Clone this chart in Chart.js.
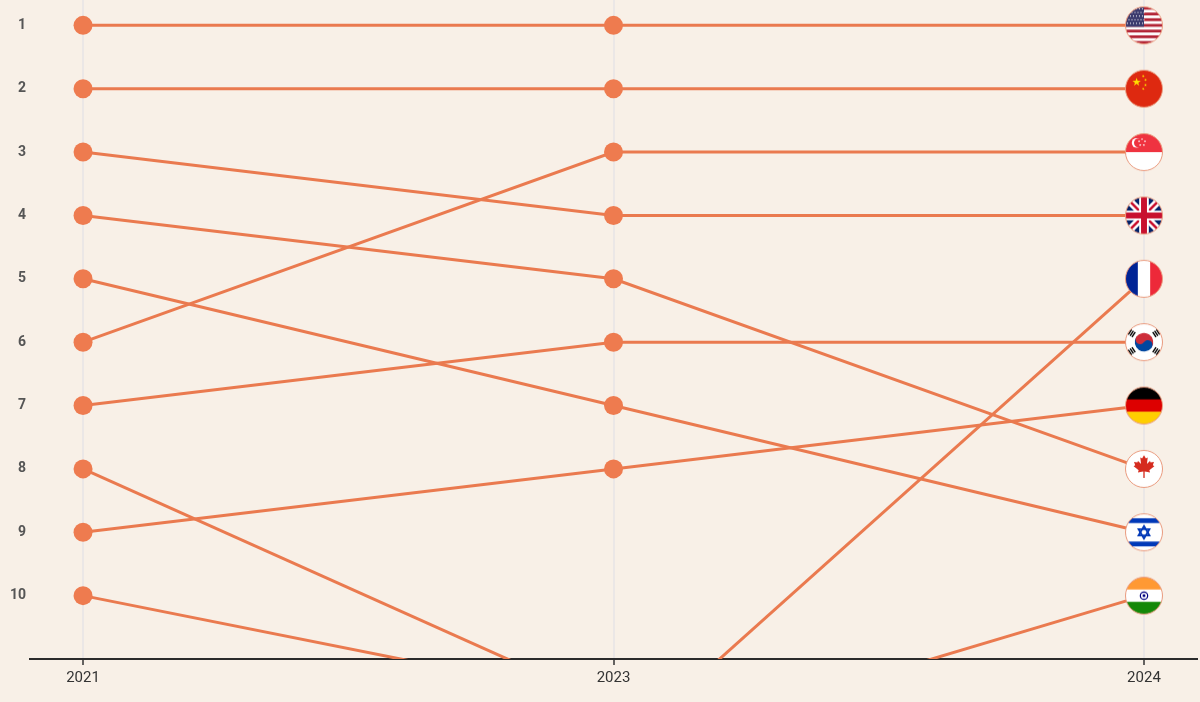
<!DOCTYPE html>
<html>
<head>
<meta charset="utf-8">
<script src="https://cdn.jsdelivr.net/npm/chart.js@4/dist/chart.umd.min.js"></script>
<style>
  html, body { margin: 0; padding: 0; background: #f8f0e7; }
  #wrap { width: 1200px; height: 702px; position: relative; }
</style>
</head>
<body>
<div id="wrap"><canvas id="myChart"></canvas></div>
<script>
// data \\
const years = ['2021', '2023', '2024'];
const rankTicks = [1, 2, 3, 4, 5, 6, 7, 8, 9, 10];

const usa = [1, 1, 1];
const china = [2, 2, 2];
const uk = [3, 4, 4];
const canada = [4, 5, 8];
const israel = [5, 7, 9];
const singapore = [6, 3, 3];
const korea = [7, 6, 6];
const droppedA = [8, 11.75, null];
const germany = [9, 8, 7];
const droppedB = [10, 11.67, null];
const france = [null, 12.5, 5];
const india = [null, 12.5, 10];

const lineColor = '#ea7a4f';
const dotColor = '#ee7b4f';

// flags (drawn, no images) \\
function flagCanvas(draw) {
    const c = document.createElement('canvas');
    c.width = 40; c.height = 40;
    const g = c.getContext('2d');
    g.save();
    g.beginPath(); g.arc(20, 20, 18.5, 0, Math.PI * 2); g.clip();
    g.translate(1.5, 1.5);
    draw(g, 37);
    g.restore();
    g.beginPath(); g.arc(20, 20, 18.5, 0, Math.PI * 2);
    g.strokeStyle = '#e99a7e'; g.lineWidth = 1; g.stroke();
    return c;
}

function star(g, cx, cy, r, color, rot) {
    g.beginPath();
    for (let i = 0; i < 10; i++) {
        const rr = i % 2 ? r * 0.4 : r;
        const a = -Math.PI / 2 + (rot || 0) + i * Math.PI / 5;
        g.lineTo(cx + rr * Math.cos(a), cy + rr * Math.sin(a));
    }
    g.closePath(); g.fillStyle = color; g.fill();
}

function stripesH(g, s, cols) {
    cols.forEach((c, i) => { g.fillStyle = c; g.fillRect(0, i * s / cols.length, s, s / cols.length + 0.5); });
}
function stripesV(g, s, cols) {
    cols.forEach((c, i) => { g.fillStyle = c; g.fillRect(i * s / cols.length, 0, s / cols.length + 0.5, s); });
}

const flags = {
    usa: flagCanvas((g, s) => {
        for (let i = 0; i < 13; i++) {
            g.fillStyle = i % 2 ? '#ffffff' : '#b22234';
            g.fillRect(0, i * s / 13, s, s / 13 + 0.5);
        }
        g.fillStyle = '#3c3b6e'; g.fillRect(0, 0, s * 0.5, s * 7 / 13);
        g.fillStyle = '#ffffff';
        for (let r = 0; r < 5; r++) for (let k = 0; k < 6; k++) {
            g.beginPath(); g.arc(2 + k * 3 + (r % 2) * 1.5, 2 + r * 3.6, 0.6, 0, Math.PI * 2); g.fill();
        }
    }),
    china: flagCanvas((g, s) => {
        g.fillStyle = '#de2910'; g.fillRect(0, 0, s, s);
        star(g, s * 0.3, s * 0.32, s * 0.12, '#ffde00');
        star(g, s * 0.48, s * 0.16, s * 0.04, '#ffde00', 0.4);
        star(g, s * 0.54, s * 0.26, s * 0.04, '#ffde00', 0.8);
        star(g, s * 0.54, s * 0.4, s * 0.04, '#ffde00');
        star(g, s * 0.48, s * 0.5, s * 0.04, '#ffde00', 0.4);
    }),
    singapore: flagCanvas((g, s) => {
        stripesH(g, s, ['#ef3340', '#ffffff']);
        g.fillStyle = '#ffffff';
        g.beginPath(); g.arc(s * 0.3, s * 0.25, s * 0.13, 0, Math.PI * 2); g.fill();
        g.fillStyle = '#ef3340';
        g.beginPath(); g.arc(s * 0.35, s * 0.25, s * 0.12, 0, Math.PI * 2); g.fill();
        [[0.42, 0.15], [0.5, 0.21], [0.47, 0.31], [0.37, 0.31], [0.34, 0.21]].forEach(p =>
            star(g, s * p[0] + 1, s * p[1], s * 0.035, '#ffffff'));
    }),
    uk: flagCanvas((g, s) => {
        g.fillStyle = '#012169'; g.fillRect(0, 0, s, s);
        g.lineCap = 'butt';
        g.strokeStyle = '#ffffff'; g.lineWidth = s * 0.2;
        g.beginPath(); g.moveTo(0, 0); g.lineTo(s, s); g.moveTo(s, 0); g.lineTo(0, s); g.stroke();
        g.strokeStyle = '#c8102e'; g.lineWidth = s * 0.07;
        g.beginPath(); g.moveTo(0, 0); g.lineTo(s, s); g.moveTo(s, 0); g.lineTo(0, s); g.stroke();
        g.fillStyle = '#ffffff';
        g.fillRect(0, s * 0.37, s, s * 0.26); g.fillRect(s * 0.37, 0, s * 0.26, s);
        g.fillStyle = '#c8102e';
        g.fillRect(0, s * 0.42, s, s * 0.16); g.fillRect(s * 0.42, 0, s * 0.16, s);
    }),
    france: flagCanvas((g, s) => stripesV(g, s, ['#002395', '#ffffff', '#ed2939'])),
    korea: flagCanvas((g, s) => {
        g.fillStyle = '#ffffff'; g.fillRect(0, 0, s, s);
        const cx = s / 2, cy = s / 2, r = s * 0.25, a = Math.atan2(2, 3);
        g.save(); g.translate(cx, cy); g.rotate(a);
        g.fillStyle = '#0047a0';
        g.beginPath(); g.arc(0, 0, r, 0, Math.PI); g.fill();
        g.fillStyle = '#cd2e3a';
        g.beginPath(); g.arc(0, 0, r, Math.PI, Math.PI * 2); g.fill();
        g.beginPath(); g.arc(-r / 2, 0, r / 2, 0, Math.PI * 2); g.fill();
        g.fillStyle = '#0047a0';
        g.beginPath(); g.arc(r / 2, 0, r / 2, 0, Math.PI * 2); g.fill();
        g.restore();
        g.fillStyle = '#000000';
        [[-1, -1], [1, -1], [-1, 1], [1, 1]].forEach(d => {
            g.save();
            g.translate(cx + d[0] * s * 0.33, cy + d[1] * s * 0.24);
            g.rotate(Math.atan2(d[1] * 2, d[0] * 3) + Math.PI / 2);
            for (let k = -1; k <= 1; k++) g.fillRect(-s * 0.08, k * 2.2 - 0.7, s * 0.16, 1.4);
            g.restore();
        });
    }),
    germany: flagCanvas((g, s) => stripesH(g, s, ['#000000', '#dd0000', '#ffce00'])),
    canada: flagCanvas((g, s) => {
        g.fillStyle = '#ffffff'; g.fillRect(0, 0, s, s);
        const half = [[0, -0.95], [0.14, -0.7], [0.28, -0.78], [0.22, -0.3], [0.45, -0.52], [0.5, -0.4],
            [0.75, -0.45], [0.66, -0.2], [0.78, -0.12], [0.4, 0.18], [0.46, 0.34], [0.05, 0.28],
            [0.05, 0.75]];
        const pts = half.concat(half.slice(1).reverse().map(p => [-p[0], p[1]]));
        g.fillStyle = '#d52b1e';
        g.beginPath();
        pts.forEach(p => g.lineTo(s / 2 + p[0] * s * 0.36, s * 0.47 + p[1] * s * 0.36));
        g.closePath(); g.fill();
    }),
    israel: flagCanvas((g, s) => {
        g.fillStyle = '#ffffff'; g.fillRect(0, 0, s, s);
        g.fillStyle = '#0038b8';
        g.fillRect(0, s * 0.12, s, s * 0.13); g.fillRect(0, s * 0.75, s, s * 0.13);
        g.strokeStyle = '#0038b8'; g.lineWidth = 1.8;
        [0, Math.PI].forEach(off => {
            g.beginPath();
            for (let i = 0; i < 3; i++) {
                const ang = -Math.PI / 2 + off + i * 2 * Math.PI / 3;
                g.lineTo(s / 2 + s * 0.17 * Math.cos(ang), s / 2 + s * 0.17 * Math.sin(ang));
            }
            g.closePath(); g.stroke();
        });
    }),
    india: flagCanvas((g, s) => {
        stripesH(g, s, ['#ff9933', '#ffffff', '#138808']);
        g.strokeStyle = '#000080'; g.lineWidth = 1.2;
        g.beginPath(); g.arc(s / 2, s / 2, s * 0.1, 0, Math.PI * 2); g.stroke();
        g.fillStyle = '#000080';
        g.beginPath(); g.arc(s / 2, s / 2, s * 0.04, 0, Math.PI * 2); g.fill();
    })
};

// datasets \\
const series = [
    ['United States', usa, flags.usa],
    ['China', china, flags.china],
    ['United Kingdom', uk, flags.uk],
    ['Canada', canada, flags.canada],
    ['Israel', israel, flags.israel],
    ['Singapore', singapore, flags.singapore],
    ['South Korea', korea, flags.korea],
    ['Dropped out (2021 #8)', droppedA, null],
    ['Germany', germany, flags.germany],
    ['Dropped out (2021 #10)', droppedB, null],
    ['France', france, flags.france],
    ['India', india, flags.india]
];

const datasets = series.map(([name, values, flag]) => ({
    label: name,
    data: values.map((v, i) => ({ x: i, y: v })),
    borderColor: lineColor,
    backgroundColor: dotColor,
    borderWidth: 3,
    pointBorderWidth: 0,
    pointRadius: 9.5,
    pointStyle: (c) => (c.dataIndex === 2 && flag) ? flag : 'circle',
    tension: 0,
    spanGaps: false
}));

const ctx = document.getElementById('myChart');

new Chart(ctx, {
    type: 'line',
    data: { datasets: datasets },
    options: {
        responsive: true,
        maintainAspectRatio: false,
        animation: false,
        events: [],
        layout: { autoPadding: false, padding: { top: 0, right: 3, bottom: 11, left: 0 } },
        plugins: { legend: { display: false }, tooltip: { enabled: false } },
        scales: {
            x: {
                type: 'linear',
                min: -0.1,
                max: 2.1,
                afterBuildTicks: (axis) => { axis.ticks = years.map((y, i) => ({ value: i })); },
                afterFit: (axis) => { axis.paddingLeft = 0; axis.paddingRight = 0; },
                ticks: {
                    callback: (v) => years[v],
                    color: '#333333',
                    font: { family: 'Roboto', size: 15 },
                    padding: 4,
                    maxRotation: 0
                },
                grid: { color: '#ebe7e6', lineWidth: 2, tickColor: '#333333', tickLength: 6, tickWidth: 1.5 },
                border: { color: '#2b2b2b', width: 2 }
            },
            y: {
                reverse: true,
                min: 0.6,
                max: 11,
                afterBuildTicks: (axis) => { axis.ticks = rankTicks.map(r => ({ value: r })); },
                afterFit: (axis) => { axis.width = 30; axis.paddingTop = 0; axis.paddingBottom = 0; },
                ticks: {
                    color: '#555555',
                    font: { family: 'Roboto', size: 14, weight: 'bold' },
                    padding: 4
                },
                grid: { display: false, drawTicks: false },
                border: { display: false }
            }
        }
    }
});
</script>
</body>
</html>
